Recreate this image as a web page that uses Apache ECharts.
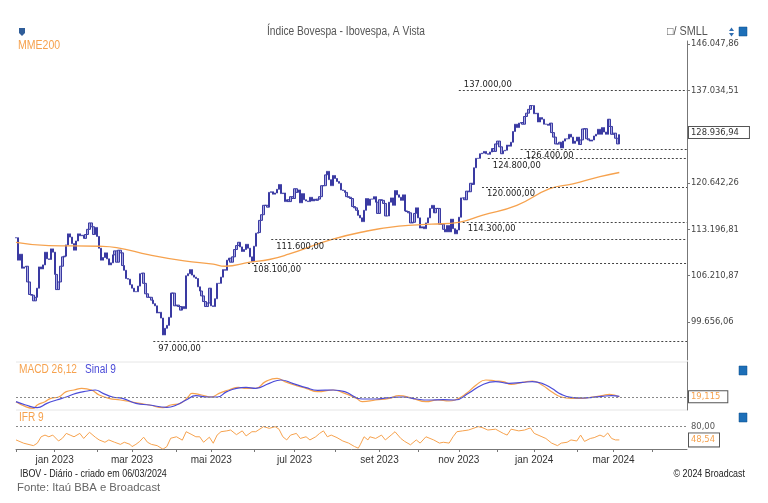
<!DOCTYPE html>
<html><head><meta charset="utf-8">
<script src="https://cdn.jsdelivr.net/npm/echarts@6/dist/echarts.min.js"></script>
<style>html,body{margin:0;padding:0;background:#fff}#c{width:768px;height:503px}</style>
</head><body><div id="c"></div>
<script>
// ---------- calendar (B3 trading days) ----------
const firstDay = '2022-12-02';
const lastAxisDay = '2024-04-25';
const holidays = ['2022-12-30','2023-02-20','2023-02-21','2023-04-07','2023-04-21','2023-05-01','2023-06-08',
  '2023-09-07','2023-10-12','2023-11-02','2023-11-15','2023-12-25','2023-12-29','2024-01-01','2024-02-12',
  '2024-02-13','2024-03-29'];
const monthAbbr = ['jan','fev','mar','abr','mai','jun','jul','ago','set','out','nov','dez'];

// ---------- daily closes (Ibovespa, pts) ----------
const closeDec22 = [111900,108500,109400,107300,107500,107600,105300,103500,103400,102600,103100,104400,107500,107200,107800,109700,108700,108600,110200,109700];
const closeJan23 = [106400,104200,105300,107600,109000,109100,110800,112500,112000,111000,110000,111400,112500,112200,112300,111800,112400,113200,114200,113600,112400,113500];
const closeFeb23 = [112100,110300,108500,108900,109600,108700,107800,108100,109300,109900,108200,110000,109600,107700,107000,105800,105700,104900];
const closeMar23 = [104400,103900,103900,104700,106500,106600,105100,103600,103100,103100,102700,102200,101900,100900,101000,100200,97900,98800,99200,100300,103700,103700,101900];
const closeApr23 = [102000,101800,101300,101800,101500,106200,106500,107100,106300,106000,105800,104600,104000,103300,102500,101800,102300,104400];
const closeMay23 = [101900,101800,102900,105100,105100,106000,107100,107000,108500,108800,108200,109000,110100,110700,111200,110500,109800,110100,110900,110300,109000,108300];
const closeJun23 = [110600,112600,112700,114600,115500,117000,117000,116700,119100,119200,118800,119000,119600,120400,118900,119000,117600,117900,117600,118400,118100];
const closeJul23 = [119700,119100,119500,117400,118900,117900,117700,117600,118300,117700,118000,117800,118000,118400,120200,120200,122000,122600,121200,120200,121900];
const closeAug23 = [121400,120900,120600,119500,119400,119100,118400,118300,118100,116800,116600,116200,115400,115000,114400,116200,118100,117000,118000,118000,118400,117500,115700];
const closeSep23 = [117900,117800,117300,115300,115300,117500,118200,117000,119400,118700,118300,117800,118700,116100,116000,115800,114200,114300,115700,116600];
const closeOct23 = [115000,113400,113600,113300,114200,115000,116500,117000,115800,116500,116500,114000,114000,113200,112800,113800,112800,114800,113300,112500,113100];
const closeNov23 = [115100,118200,118200,117900,119300,119200,120600,120400,123200,124800,124800,125600,125700,126000,125600,125500,125900,126500,126000,127300];
const closeDec23 = [127800,126800,125600,126100,126200,127100,126900,127600,129500,130800,130200,131000,131100,130800,132200,132800,133500,134200,134200];
const closeJan24 = [132700,132800,131200,132000,131700,130800,130800,130600,131000,129300,128500,127300,127300,127600,126600,127800,128200,128200,129000,128500,127400,127800];
const closeFeb24 = [128500,127200,128000,129950,130000,128200,128000,127800,128000,128700,129000,129900,129000,130200,129400,129000,131700,130400,129000];
const closeMar24 = [129200,128300,127300,128936.94];

// ---------- MME200 (sampled, trading-day number -> pts) ----------
const emaDay = [0,17,43,52,69,87,102,108,121,131,141,163,181,198,215,229,241,259,276,288,302,312];
const emaVal = [111200,110700,110600,110400,109300,108400,107900,107600,108200,108600,109400,111600,112900,113700,114000,114300,115400,117000,119700,120500,121700,122400];

// ---------- MACD 26,12 / Sinal 9 ----------
const macdDay = [0,5,9,11,15,18,22,26,30,34,39,43,48,54,59,64,69,76,80,85,89,91,96,101,105,110,115,119,124,129,135,139,145,150,156,164,170,176,179,186,193,198,205,212,218,224,227,233,238,243,248,252,256,262,267,272,277,282,287,293,298,303,307,312];
const macdVal = [-700,-1450,-1700,-1200,-700,-200,0,800,1050,1300,1050,300,-200,-450,-700,-950,-1200,-1600,-1200,-950,0,550,300,0,550,1050,1450,1300,1300,2300,2800,2300,1700,1300,800,1050,550,-200,-700,-450,-200,200,-200,-700,-450,-600,-450,550,1800,2550,2400,2300,1900,2200,2400,1800,800,0,-200,-200,0,200,400,19.115];
const sigDay = [0,5,11,16,21,26,31,37,41,45,50,55,62,69,78,83,88,93,99,104,109,114,119,124,131,137,143,150,156,164,170,179,186,193,200,207,213,221,227,234,241,248,255,262,267,272,277,282,287,293,298,303,308,312];
const sigVal = [-700,-1200,-1600,-950,-450,0,550,900,1050,550,0,-200,-950,-1200,-1550,-1200,-450,200,0,0,800,1300,1450,1300,2050,2550,2050,1400,1000,1050,800,-300,-300,-100,0,-300,-450,-400,-450,550,1800,2300,2050,2200,2300,2050,1300,400,-50,-150,-50,100,200,100];

// ---------- IFR 9 ----------
const rsiDay = [0,4,9,11,13,15,17,19,22,24,26,28,30,33,35,38,41,43,46,48,51,54,56,59,60,62,64,66,68,70,73,76,78,80,83,86,88,91,93,95,97,100,102,104,106,109,111,114,117,119,122,124,128,131,134,136,138,140,142,145,147,150,152,155,157,159,161,163,166,169,172,175,177,178,180,182,183,186,189,191,194,196,199,201,204,207,209,212,213,216,219,221,224,226,228,231,234,239,241,244,248,252,254,256,260,263,266,268,272,274,277,280,282,285,287,290,292,294,297,299,302,304,306,308,310,312];
const rsiVal = [48.5,40.7,35,40.7,56,60,56,60,46,52.5,64,60,56,64,52,66.7,55,48.5,43,48.5,43,38,43,38,32.7,38,45,55,43,38,35,26.5,32.7,52.5,56,48,68,61,56,56,43,55,40.7,60,68,70,72,61,70,58,68,68,80,76,80,74,56,48.5,60,64,52,56,48.5,56,64,70,56,60,54,46,41,33,29,37,56,48.5,56,52,60,48.5,60,68,52,45,37,48.5,41,56,60,48.5,41,43,41,56,68,70,72,80,78,72,74,64,60,74,70,72,77,64,56,52,41,35,41,43,48.5,46,60,45,52,54,60,56,65,52,48.5,48.54];

// ---------- support / resistance levels ----------
const levels = [137000,126400,124800,120000,114300,111600,108100,97000];
const levelStartDay = [229,261,244,241,231,132,120,71];
const levelLabelAbove = [true,false,false,false,false,false,false,false];

// ---------- axis ticks ----------
const priceTicks = [99656.06,106210.87,113196.81,120642.26,137034.51,146047.86];
const priceAxisRange = [94586, 146654];
const macdAxisRange = [-1950, 5250];
const rsiAxisRange = [27, 119.5];
const lastPrice = 128936.94, lastMacd = 19.115, lastRsi = 48.54, rsiUpper = 80;

// ======================================================
function tradingDays(s, e, hol) {
  const out = []; const d = new Date(s + 'T12:00:00Z'); const end = new Date(e + 'T12:00:00Z');
  while (d <= end) {
    const wd = d.getUTCDay(); const iso = d.toISOString().slice(0, 10);
    if (wd !== 0 && wd !== 6 && hol.indexOf(iso) < 0) out.push(iso);
    d.setUTCDate(d.getUTCDate() + 1);
  }
  return out;
}
function fmtBR(v, dec) {
  const s = Number(v).toFixed(dec); const p = s.split('.');
  const ip = p[0].replace(/\B(?=(\d{3})+(?!\d))/g, '.');
  return p[1] ? ip + ',' + p[1] : ip;
}
const dates = tradingDays(firstDay, lastAxisDay, holidays);
const N = dates.length;
const closes = [].concat(closeDec22, closeJan23, closeFeb23, closeMar23, closeApr23, closeMay23, closeJun23,
  closeJul23, closeAug23, closeSep23, closeOct23, closeNov23, closeDec23, closeJan24, closeFeb24, closeMar24);
const L = Math.log;
const candle = closes.map((c, i) => {
  const o = i === 0 ? c : closes[i - 1];
  return [L(o), L(c), L(Math.min(o, c)), L(Math.max(o, c))];
});
const pairs = (days, vals, f) => days.map((d, j) => [dates[d], f ? f(vals[j]) : vals[j]]);

const monthStart = new Set(), labelIdx = new Set();
dates.forEach((d, i) => {
  const m = +d.slice(5, 7);
  if (i === 0 || m !== +dates[i - 1].slice(5, 7)) { monthStart.add(i); if (m % 2 === 1) labelIdx.add(i); }
});

const ORANGE = '#f6a24e', BLUE = '#4b4bd8';
const SANS = '"Liberation Sans",Arial,sans-serif';
const AXF = '"DejaVu Sans",Verdana,sans-serif';

const levelLines = levels.map((v, j) => [
  { coord: [dates[levelStartDay[j]], L(v)],
    label: { show: true, position: levelLabelAbove[j] ? 'insideStartTop' : 'insideStartBottom',
      distance: levelLabelAbove[j] ? [5, 2] : [5, 3], formatter: fmtBR(v, 2) } },
  { coord: [dates[N - 1], L(v)] }
]);
levelLines.push({ yAxis: L(lastPrice), lineStyle: { color: 'rgba(0,0,0,0)' },
  label: { show: true, position: 'end', distance: 2, formatter: fmtBR(lastPrice, 2), color: '#333',
    borderColor: '#555', borderWidth: 1, backgroundColor: '#fff', padding: [2, 10, 1, 2] } });

const boxLabel = (txt, color, pad) => ({ show: true, position: 'end', distance: 2, formatter: txt, color: color,
  fontFamily: AXF, fontSize: 8.4, borderColor: '#555', borderWidth: 1, backgroundColor: '#fff', padding: pad });

// condensed-looking text (scaled horizontally around its anchor)
const ctext = (x, y, text, size, fill, align, sx) => ({ type: 'text', x: x, y: y, scaleX: sx, silent: true,
  style: { text: text, font: size + 'px ' + SANS, fill: fill, textAlign: align, textVerticalAlign: 'middle' } });

const chart = echarts.init(document.getElementById('c'), null, { renderer: 'canvas' });
chart.setOption({
  animation: false,
  backgroundColor: '#fff',
  grid: [
    { left: 16, right: 81, top: 41, height: 319 },
    { left: 16, right: 81, top: 362, height: 48 },
    { left: 16, right: 81, top: 410, height: 39 }
  ],
  xAxis: [0, 1, 2].map(g => ({
    type: 'category', gridIndex: g, data: dates, boundaryGap: false, show: g === 2,
    axisLine: { show: true, lineStyle: { color: '#777', width: 1 } },
    axisTick: { show: true, length: 3, lineStyle: { color: '#777' }, interval: (i) => monthStart.has(i) },
    axisLabel: { show: true, interval: (i) => labelIdx.has(i), margin: 6, color: '#333', fontFamily: SANS, fontSize: 10,
      formatter: (v) => monthAbbr[+v.slice(5, 7) - 1] + ' ' + v.slice(0, 4), hideOverlap: false },
    splitLine: { show: false }
  })),
  yAxis: [
    { type: 'value', gridIndex: 0, position: 'right', min: L(priceAxisRange[0]), max: L(priceAxisRange[1]),
      axisLine: { show: true, lineStyle: { color: '#777' } },
      axisTick: { show: true, length: 3, customValues: priceTicks.map(L), lineStyle: { color: '#777' } },
      axisLabel: { show: true, customValues: priceTicks.map(L), margin: 4, color: '#444', fontFamily: AXF, fontSize: 8.4,
        formatter: (v) => fmtBR(Math.exp(v), 2) },
      splitLine: { show: false } },
    { type: 'value', gridIndex: 1, position: 'right', min: macdAxisRange[0], max: macdAxisRange[1],
      axisLine: { show: true, lineStyle: { color: '#777' } }, axisTick: { show: false }, axisLabel: { show: false },
      splitLine: { show: false } },
    { type: 'value', gridIndex: 2, position: 'right', min: rsiAxisRange[0], max: rsiAxisRange[1],
      axisLine: { show: false }, axisTick: { show: false }, axisLabel: { show: false }, splitLine: { show: false } }
  ],
  series: [
    { type: 'candlestick', name: 'IBOV', xAxisIndex: 0, yAxisIndex: 0, data: candle, barWidth: '95%',
      itemStyle: { color: '#a9a9e0', color0: '#a9a9e0', borderColor: '#3a3aa2', borderColor0: '#3a3aa2', borderWidth: 1 },
      markLine: { symbol: 'none', silent: true, animation: false,
        lineStyle: { color: '#444', type: [2, 2], width: 1 },
        label: { fontFamily: AXF, fontSize: 8.4, color: '#222' },
        data: levelLines } },
    { type: 'line', name: 'MME200', xAxisIndex: 0, yAxisIndex: 0, data: pairs(emaDay, emaVal, L), smooth: true,
      showSymbol: false, lineStyle: { color: ORANGE, width: 1.3 } },
    { type: 'line', name: 'MACD', xAxisIndex: 1, yAxisIndex: 1, data: pairs(macdDay, macdVal), smooth: true,
      showSymbol: false, lineStyle: { color: ORANGE, width: 1.2 },
      markLine: { symbol: 'none', silent: true, animation: false, lineStyle: { color: '#888', type: [2, 2], width: 1 },
        data: [{ yAxis: lastMacd, label: boxLabel(fmtBR(lastMacd, 3), ORANGE, [2, 7, 1, 2]) }] } },
    { type: 'line', name: 'Sinal', xAxisIndex: 1, yAxisIndex: 1, data: pairs(sigDay, sigVal), smooth: true,
      showSymbol: false, lineStyle: { color: BLUE, width: 1.2 } },
    { type: 'line', name: 'IFR', xAxisIndex: 2, yAxisIndex: 2, data: pairs(rsiDay, rsiVal), smooth: false,
      showSymbol: false, lineStyle: { color: ORANGE, width: 1 },
      markLine: { symbol: 'none', silent: true, animation: false, lineStyle: { color: '#888', type: [2, 2], width: 1 },
        data: [
          { yAxis: rsiUpper, label: { show: true, position: 'end', distance: 4, formatter: fmtBR(rsiUpper, 2), color: '#555', fontFamily: AXF, fontSize: 8.4 } },
          { yAxis: lastRsi, lineStyle: { color: 'rgba(0,0,0,0)' }, label: boxLabel(fmtBR(lastRsi, 2), ORANGE, [3, 4, 2, 2]) }
        ] } }
  ],
  graphic: [
    { type: 'line', shape: { x1: 16, y1: 362, x2: 687, y2: 362 }, style: { stroke: '#e6e6e6', lineWidth: 1 }, silent: true },
    { type: 'line', shape: { x1: 16, y1: 410, x2: 687, y2: 410 }, style: { stroke: '#e6e6e6', lineWidth: 1 }, silent: true },
    { type: 'polygon', shape: { points: [[19, 28], [25, 28], [25, 33], [22, 36], [19, 33]] }, style: { fill: '#2f5d99' }, silent: true },
    ctext(346, 32, 'Índice Bovespa - Ibovespa, A Vista', 12, '#555', 'center', 0.85),
    ctext(18, 45, 'MME200', 13, ORANGE, 'left', 0.81),
    ctext(667, 32, '□/ SMLL', 12, '#555', 'left', 0.9),
    { type: 'polygon', shape: { points: [[729, 31], [731.5, 27.5], [734, 31]] }, style: { fill: '#2f6db0' }, silent: true },
    { type: 'polygon', shape: { points: [[729, 33], [731.5, 36.5], [734, 33]] }, style: { fill: '#2f6db0' }, silent: true },
    { type: 'rect', shape: { x: 739, y: 27, width: 8, height: 9 }, style: { fill: '#1d6fb8', stroke: '#0d4f88', lineWidth: 0.5 }, silent: true },
    { type: 'rect', shape: { x: 739, y: 366, width: 8, height: 9 }, style: { fill: '#1d6fb8', stroke: '#0d4f88', lineWidth: 0.5 }, silent: true },
    { type: 'rect', shape: { x: 739, y: 413, width: 8, height: 9 }, style: { fill: '#1d6fb8', stroke: '#0d4f88', lineWidth: 0.5 }, silent: true },
    ctext(19, 370, 'MACD 26,12', 12.5, ORANGE, 'left', 0.81),
    ctext(85, 370, 'Sinal 9', 12.5, BLUE, 'left', 0.81),
    ctext(19, 418, 'IFR 9', 12.5, ORANGE, 'left', 0.81),
    ctext(20, 474, 'IBOV - Diário - criado em 06/03/2024', 10.5, '#222', 'left', 0.85),
    ctext(745, 474, '© 2024 Broadcast', 10.5, '#222', 'right', 0.85),
    ctext(17, 488, 'Fonte: Itaú BBA e Broadcast', 11.3, '#666', 'left', 1)
  ]
});
</script></body></html>
